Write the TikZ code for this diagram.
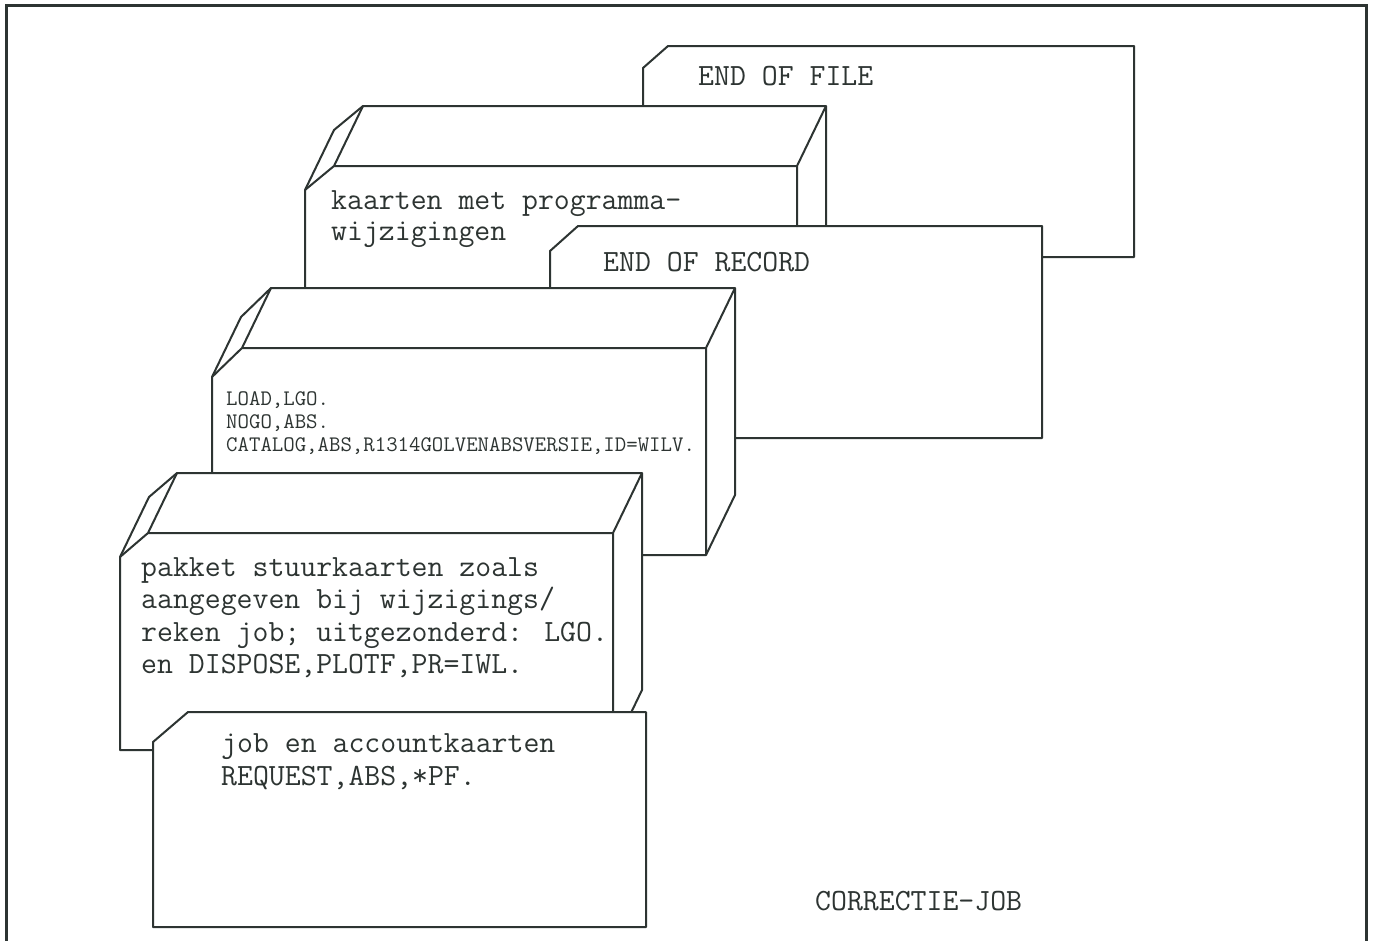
\documentclass[tikz,border=0pt]{standalone}
\usetikzlibrary{calc}
\definecolor{ink}{RGB}{45,52,50}

% A card deck seen obliquely: front card with a cut top-left corner,
% extruded backwards by (\deckdx,\deckdy).
% #1 name, #2 left x, #3 top y, #4 right x, #5 bottom y, #6/#7 corner cut
\newcommand\deckdx{29}
\newcommand\deckdy{-60}
\newcommand\deckdraw[7]{%
  \coordinate (#1-A) at (#2,{#3+#7});
  \coordinate (#1-D) at ({#2+#6},#3);
  \coordinate (#1-F) at (#4,#3);
  \coordinate (#1-G) at (#4,#5);
  \coordinate (#1-H) at (#2,#5);
  \coordinate (#1-B) at ($(#1-A)+(\deckdx,\deckdy)$);
  \coordinate (#1-C) at ($(#1-D)+(\deckdx,\deckdy)$);
  \coordinate (#1-R) at ($(#1-F)+(\deckdx,\deckdy)$);
  \coordinate (#1-S) at ($(#1-G)+(\deckdx,\deckdy)$);
  \path[sheet] (#1-A) -- (#1-B) -- (#1-C) -- (#1-R) -- (#1-S) -- (#1-G) -- (#1-H) -- cycle;
  \draw[edge] (#1-A) -- (#1-D) -- (#1-C)
              (#1-D) -- (#1-F) -- (#1-R)
              (#1-F) -- (#1-G);
}
% A single card with a cut top-left corner.
% #1 name, #2 left x, #3 top y, #4 right x, #5 bottom y, #6/#7 corner cut
\newcommand\carddraw[7]{%
  \path[sheet] (#2,{#3+#7}) coordinate (#1-A) -- ({#2+#6},#3) coordinate (#1-D)
     -- (#4,#3) coordinate (#1-F) -- (#4,#5) coordinate (#1-G)
     -- (#2,#5) coordinate (#1-H) -- cycle;
}

\begin{document}
\begin{tikzpicture}[x=1pt,y=-1pt,
  edge/.style={draw=ink, line width=2pt, line join=round},
  sheet/.style={edge, fill=white},
  frameline/.style={draw=ink, line width=3pt},
  label/.style={anchor=base west, inner sep=0pt, text=ink,
                font=\fontsize{30.9}{33}\selectfont\ttfamily},
  small/.style={label, font=\fontsize{22.2}{23}\selectfont\ttfamily}]

\fill[white] (0,0) rectangle (1375,940);
\useasboundingbox (0,0) rectangle (1375,940);

% outer frame (open at the bottom)
\draw[frameline] (6,941) -- (6,5) -- (1366,5) -- (1366,941);

% from back to front
\carddraw{eof}{643}{46}{1134}{257}{25}{22}
\deckdraw{prog}{305}{166}{797}{380}{29}{24}
\carddraw{eor}{550}{226}{1042}{438}{28}{25}
\deckdraw{load}{212}{348}{706}{555}{30}{29}
\deckdraw{ctrl}{120}{533}{613}{750}{28}{24}
\carddraw{job}{153}{712}{646}{927}{35}{30}

% texts
\node[label] (teof) at (698,85) {END OF FILE};
\node[label] (tprog1) at (331,209) {kaarten met programma-};
\node[label] (tprog2) at (331,240) {wijzigingen};
\node[label] (teor) at (603,271) {END OF RECORD};
\node[small] (tload1) at (226,405) {LOAD,LGO.};
\node[small] (tload2) at (226,428) {NOGO,ABS.};
\node[small] (tload3) at (226,451) {CATALOG,ABS,R1314GOLVENABSVERSIE,ID=WILV.};
\node[label] (tctrl1) at (141,576) {pakket stuurkaarten zoals};
\node[label] (tctrl2) at (141,608) {aangegeven bij wijzigings/};
\node[label] (tctrl3) at (141,641) {reken job; uitgezonderd: LGO.};
\node[label] (tctrl4) at (141,673) {en DISPOSE,PLOTF,PR=IWL.};
\node[label] (tjob1) at (221,752) {job en accountkaarten};
\node[label] (tjob2) at (221,785) {REQUEST,ABS,*PF.};
\node[label] (ttitle) at (815,910) {CORRECTIE-JOB};
\end{tikzpicture}
\end{document}
